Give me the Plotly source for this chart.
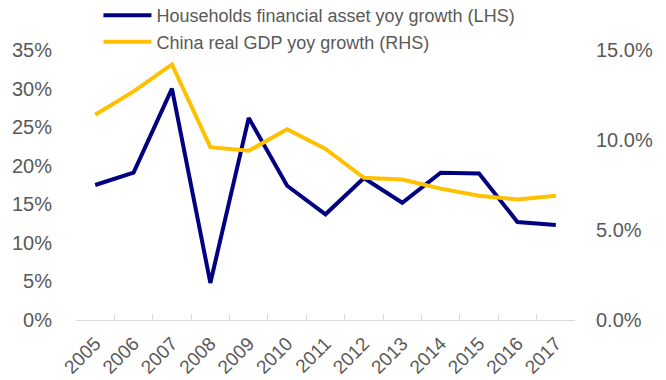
import plotly.graph_objects as go

years = ["2005", "2006", "2007", "2008", "2009", "2010", "2011",
         "2012", "2013", "2014", "2015", "2016", "2017"]
# Households financial asset yoy growth, % (left axis)
household_growth = [17.5, 19.1, 30.0, 4.8, 26.2, 17.4, 13.7,
                    18.4, 15.2, 19.1, 19.0, 12.7, 12.3]
# China real GDP yoy growth, % (right axis)
gdp_growth = [11.4, 12.7, 14.2, 9.6, 9.4, 10.6, 9.5,
              7.9, 7.8, 7.3, 6.9, 6.7, 6.9]

left_ticks = [0, 5, 10, 15, 20, 25, 30, 35]
right_ticks = [0, 5, 10, 15]
left_labels = [f"{v}%" for v in left_ticks]
right_labels = [f"{v:.1f}%" for v in right_ticks]

NAVY = "#000080"
GOLD = "#FFC000"
GREY = "#595959"
FONT = "Liberation Sans, Arial, sans-serif"

fig = go.Figure()
fig.add_trace(go.Scatter(
    x=years, y=household_growth, mode="lines",
    name="Households financial asset yoy growth (LHS)",
    line=dict(color=NAVY, width=4), yaxis="y"))
fig.add_trace(go.Scatter(
    x=years, y=gdp_growth, mode="lines",
    name="China real GDP yoy growth (RHS)",
    line=dict(color=GOLD, width=4), yaxis="y2"))

fig.update_layout(
    width=666, height=380,
    margin=dict(l=76, r=91, t=50, b=60, autoexpand=False),
    paper_bgcolor="white", plot_bgcolor="white",
    font=dict(family=FONT, size=20, color=GREY),
    showlegend=True,
    legend=dict(
        x=0.045, xanchor="left", y=1.196, yanchor="top",
        yref="paper", itemwidth=48,
        bgcolor="rgba(0,0,0,0)", font=dict(size=18, color=GREY),
        tracegroupgap=0,
    ),
    xaxis=dict(
        type="category", range=[-0.5, 12.5], automargin=False,
        showline=True, linecolor="#d9d9d9", linewidth=1,
        ticks="inside", tickson="boundaries", ticklen=6,
        tickcolor="#d9d9d9", tickangle=-45, ticklabelstandoff=4,
        showgrid=False, zeroline=False,
        tickfont=dict(size=19, color=GREY),
    ),
    yaxis=dict(
        range=[0, 35], tickmode="array", automargin=False,
        tickvals=left_ticks, ticktext=left_labels,
        showgrid=False, zeroline=False, showline=False,
        ticklabelstandoff=23, tickfont=dict(size=20, color=GREY),
    ),
    yaxis2=dict(
        range=[0, 15], tickmode="array", automargin=False,
        tickvals=right_ticks, ticktext=right_labels,
        overlaying="y", side="right",
        showgrid=False, zeroline=False, showline=False,
        ticklabelstandoff=20, tickfont=dict(size=20, color=GREY),
    ),
)

fig.write_html("out.html")
